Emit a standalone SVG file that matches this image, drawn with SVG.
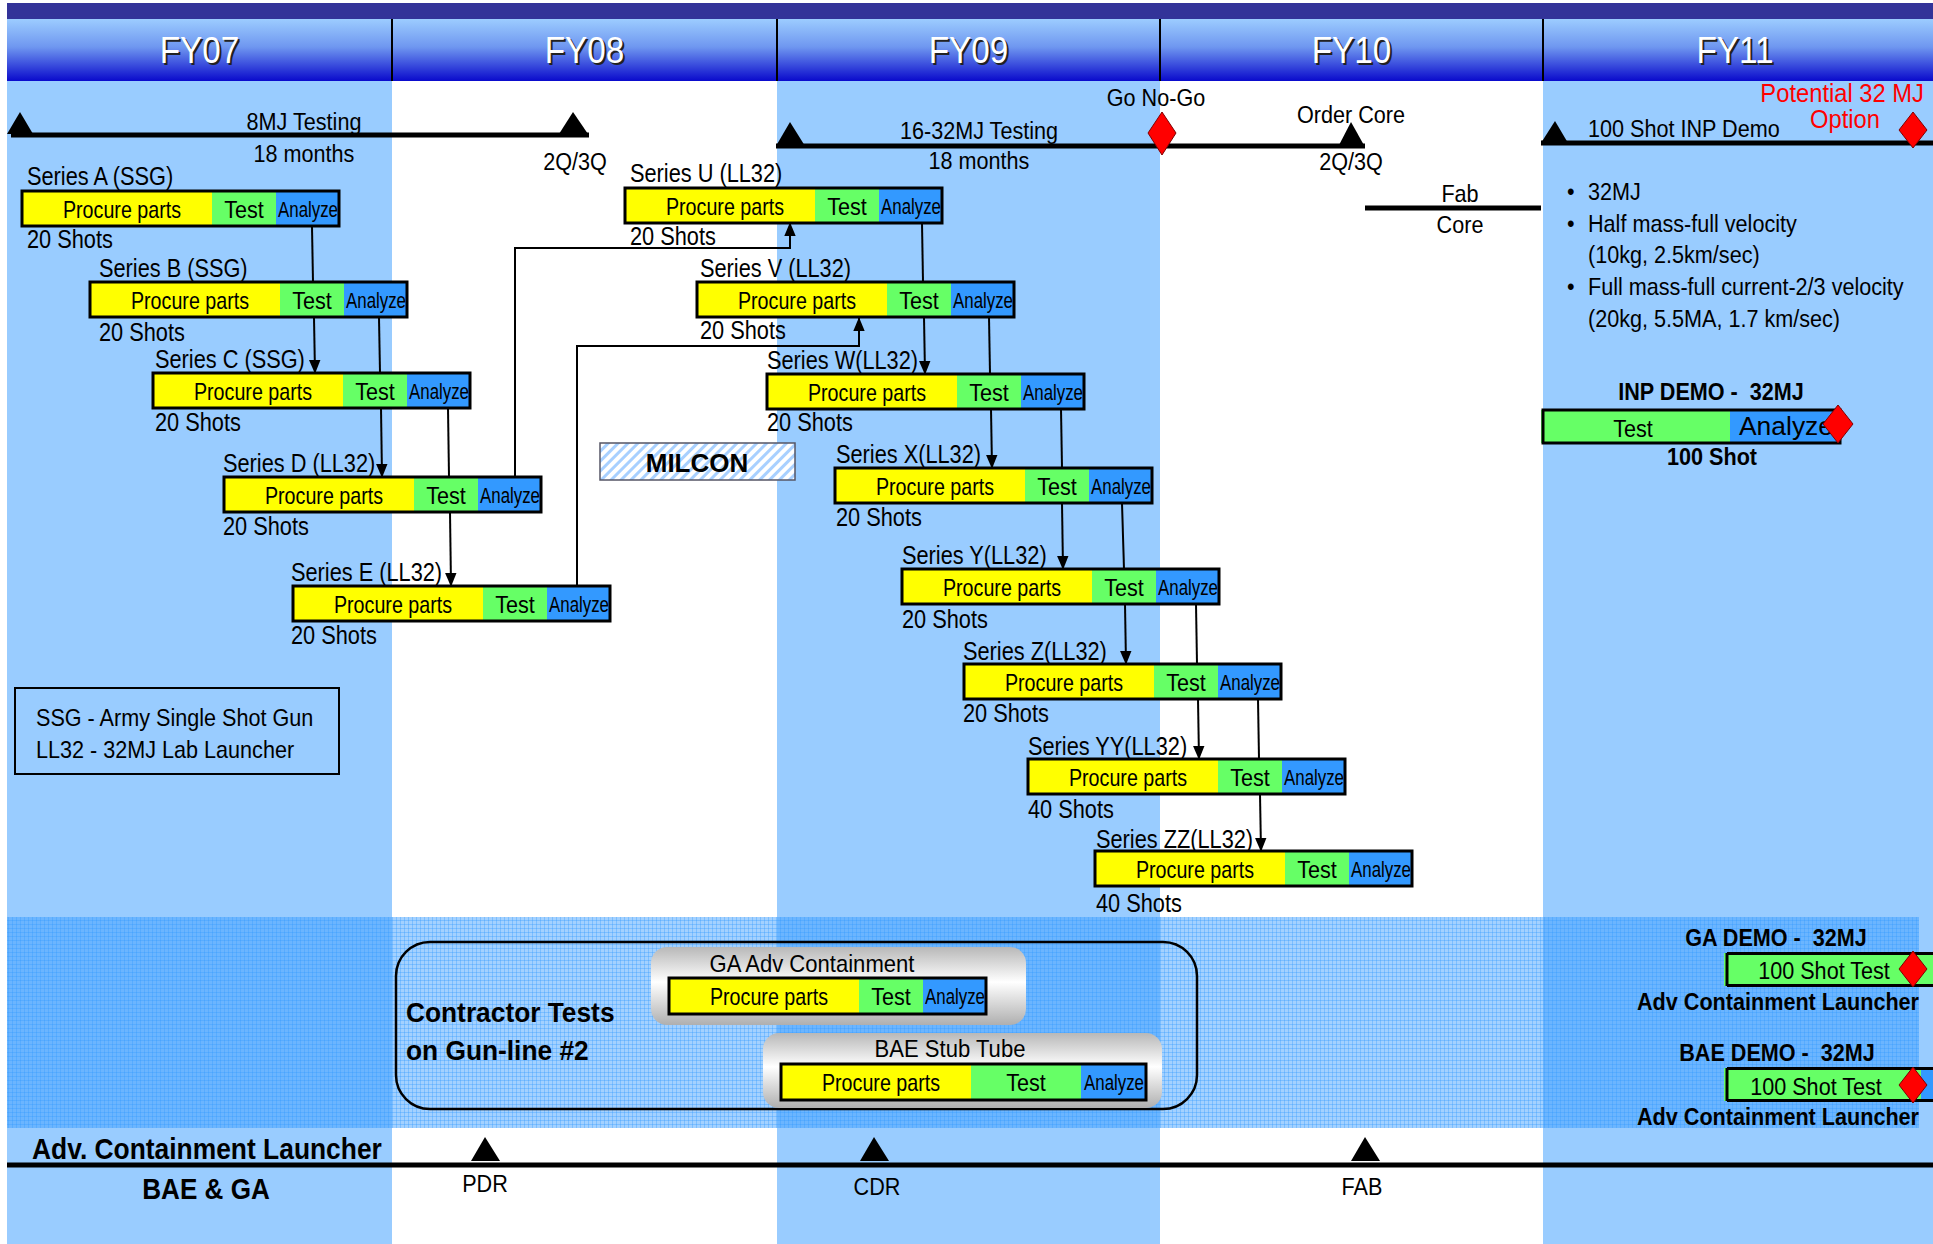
<svg xmlns="http://www.w3.org/2000/svg" width="1933" height="1244" viewBox="0 0 1933 1244">
<defs>
<style>
.t{font-family:"Liberation Sans Narrow","Arial Narrow","Liberation Sans",sans-serif;font-size:24px;fill:#000;transform-box:fill-box;transform-origin:0 0;transform:scaleX(.9)}
.lb{font-size:25px;transform:scaleX(.87)}
.pp{transform:scaleX(.82)}
.an{font-size:22px;text-anchor:middle;transform:none}
.b{font-weight:bold}
.c{text-anchor:middle;transform-origin:50% 0}
.e{text-anchor:end;transform-origin:100% 0}
.hdr{font-family:"Liberation Sans Narrow","Arial Narrow","Liberation Sans",sans-serif;font-size:37px;text-anchor:middle;fill:#fff;transform-box:fill-box;transform-origin:50% 0;transform:scaleX(.9)}
.hs{fill:#222}
.red{fill:#FF0000;font-size:25px;transform:scaleX(.95)}
.yc{fill:#FFFF00}
.gc{fill:#66FF66}
.bc{fill:#3399FF}
.fr{fill:none;stroke:#000;stroke-width:3}
.col{fill:#99CCFF}
.tl{stroke:#000;stroke-width:5;fill:none}
.conn{stroke:#000;stroke-width:2;fill:none}
.dm{fill:#FF0000;stroke:#800000;stroke-width:1}
.tri{fill:#000}
.gbox{fill:url(#greyGrad)}
</style>
<linearGradient id="hdrGrad" x1="0" y1="0" x2="0" y2="1">
<stop offset="0" stop-color="#9CCCFF"/>
<stop offset="0.45" stop-color="#6F97F0"/>
<stop offset="1" stop-color="#0A0ACC"/>
</linearGradient>
<linearGradient id="greyGrad" x1="0" y1="0" x2="0" y2="1">
<stop offset="0" stop-color="#B8B8B8"/>
<stop offset="0.45" stop-color="#FFFFFF"/>
<stop offset="1" stop-color="#AFAFAF"/>
</linearGradient>
<pattern id="grid" patternUnits="userSpaceOnUse" width="4" height="4">
<rect width="4" height="4" fill="#3399FF" fill-opacity="0.45"/>
<path d="M0 0.5H4M0.5 0V4" stroke="#3399FF" stroke-opacity="0.35" stroke-width="1"/>
</pattern>
<pattern id="diag" patternUnits="userSpaceOnUse" width="7" height="7" patternTransform="rotate(45)">
<rect width="7" height="7" fill="#FFFFFF"/>
<rect width="3" height="7" fill="#A8D0FF"/>
</pattern>
<marker id="arr" markerUnits="userSpaceOnUse" markerWidth="14" markerHeight="17" refX="16" refY="7" orient="auto" viewBox="0 0 17 14">
<path d="M0 0L17 7L0 14Z" fill="#000"/>
</marker>
</defs>

<g id="background">
<rect x="0" y="0" width="1933" height="1244" fill="#FFFFFF"/>
<rect class="col" x="7" y="81" width="385" height="1163"/>
<rect class="col" x="777" y="81" width="383" height="1163"/>
<rect class="col" x="1543" y="81" width="390" height="1163"/>
<rect x="7" y="917" width="1912" height="211" fill="url(#grid)"/>
</g>

<g id="header">
<rect x="7" y="3" width="1926" height="16" fill="#333399"/>
<rect x="7" y="19" width="1926" height="62" fill="url(#hdrGrad)"/>
<path d="M392 19V81M777 19V81M1160 19V81M1543 19V81" stroke="#000" stroke-width="2"/>
<text class="hdr hs" x="201.5" y="65">FY07</text>
<text class="hdr" x="199.5" y="63">FY07</text>
<text class="hdr hs" x="586.5" y="65">FY08</text>
<text class="hdr" x="584.5" y="63">FY08</text>
<text class="hdr hs" x="970.5" y="65">FY09</text>
<text class="hdr" x="968.5" y="63">FY09</text>
<text class="hdr hs" x="1353.5" y="65">FY10</text>
<text class="hdr" x="1351.5" y="63">FY10</text>
<text class="hdr hs" x="1737" y="65">FY11</text>
<text class="hdr" x="1735" y="63">FY11</text>
</g>

<g id="timeline-8mj">
<path class="tl" d="M11 135H589"/>
<polygon class="tri" points="20,112 33,134 7,134"/>
<polygon class="tri" points="573,112 588,134 559,134"/>
<text class="t c" x="304" y="130">8MJ Testing</text>
<text class="t c" x="304" y="162">18 months</text>
<text class="t c" x="575" y="170">2Q/3Q</text>
</g>

<g id="timeline-16-32mj">
<path class="tl" d="M776 146H1365"/>
<polygon class="tri" points="790,122 805,146 776,146"/>
<polygon class="tri" points="1351,122 1365,147 1338,147"/>
<polygon class="dm" points="1162,112 1176,133 1162,155 1148,133"/>
<text class="t c" x="979" y="139">16-32MJ Testing</text>
<text class="t c" x="979" y="169">18 months</text>
<text class="t c" x="1156" y="106">Go No-Go</text>
<text class="t c" x="1351" y="123">Order Core</text>
<text class="t c" x="1351" y="170">2Q/3Q</text>
</g>

<g id="fab-core">
<path class="tl" d="M1365 208H1541"/>
<text class="t c" x="1460" y="202">Fab</text>
<text class="t c" x="1460" y="233">Core</text>
</g>

<g id="timeline-inp">
<path class="tl" d="M1541 143H1933"/>
<polygon class="tri" points="1555,121 1568,143 1541,143"/>
<polygon class="dm" points="1913,112 1927,130 1913,148 1899,130"/>
<text class="t" x="1588" y="137">100 Shot INP Demo</text>
<text class="t e red" x="1924" y="102">Potential 32 MJ</text>
<text class="t c red" x="1845" y="128">Option</text>
</g>

<g id="inp-notes">
<text class="t" x="1567" y="200">•</text>
<text class="t" x="1588" y="200">32MJ</text>
<text class="t" x="1567" y="232">•</text>
<text class="t" x="1588" y="232">Half mass-full velocity</text>
<text class="t" x="1588" y="263">(10kg, 2.5km/sec)</text>
<text class="t" x="1567" y="295">•</text>
<text class="t" x="1588" y="295">Full mass-full current-2/3 velocity</text>
<text class="t" x="1588" y="327">(20kg, 5.5MA, 1.7 km/sec)</text>
</g>

<g id="inp-demo">
<text class="t b c" x="1711" y="400" xml:space="preserve">INP DEMO -  32MJ</text>
<rect class="gc" x="1541" y="410" width="189" height="33"/>
<rect class="bc" x="1730" y="410" width="110" height="33"/>
<rect class="fr" x="1543" y="410" width="297" height="33"/>
<text class="t c" x="1633" y="437">Test</text>
<text class="t an" x="1786" y="435" style="font-size:25px" textLength="94" lengthAdjust="spacingAndGlyphs">Analyze</text>
<polygon class="dm" points="1838,405 1853,424 1838,443 1823,424"/>
<text class="t b c" x="1712" y="465">100 Shot</text>
</g>

<g id="series-a" transform="translate(22,191)">
<text class="t lb" x="5" y="-6">Series A (SSG)</text>
<rect class="yc" width="190" height="35"/><rect class="gc" x="190" width="64" height="35"/><rect class="bc" x="254" width="63" height="35"/>
<rect class="fr" width="317" height="35"/>
<text class="t c pp" x="100" y="27">Procure parts</text><text class="t c" x="222" y="27">Test</text><text class="t an" x="286" y="26" textLength="60" lengthAdjust="spacingAndGlyphs">Analyze</text>
<text class="t lb" x="5" y="57">20 Shots</text>
</g>
<g id="series-b" transform="translate(90,282)">
<text class="t lb" x="9" y="-5">Series B (SSG)</text>
<rect class="yc" width="190" height="35"/><rect class="gc" x="190" width="64" height="35"/><rect class="bc" x="254" width="63" height="35"/>
<rect class="fr" width="317" height="35"/>
<text class="t c pp" x="100" y="27">Procure parts</text><text class="t c" x="222" y="27">Test</text><text class="t an" x="286" y="26" textLength="60" lengthAdjust="spacingAndGlyphs">Analyze</text>
<text class="t lb" x="9" y="59">20 Shots</text>
</g>
<g id="series-c" transform="translate(153,373)">
<text class="t lb" x="2" y="-5">Series C (SSG)</text>
<rect class="yc" width="190" height="35"/><rect class="gc" x="190" width="64" height="35"/><rect class="bc" x="254" width="63" height="35"/>
<rect class="fr" width="317" height="35"/>
<text class="t c pp" x="100" y="27">Procure parts</text><text class="t c" x="222" y="27">Test</text><text class="t an" x="286" y="26" textLength="60" lengthAdjust="spacingAndGlyphs">Analyze</text>
<text class="t lb" x="2" y="58">20 Shots</text>
</g>
<g id="series-d" transform="translate(224,477)">
<text class="t lb" x="-1" y="-5">Series D (LL32)</text>
<rect class="yc" width="190" height="35"/><rect class="gc" x="190" width="64" height="35"/><rect class="bc" x="254" width="63" height="35"/>
<rect class="fr" width="317" height="35"/>
<text class="t c pp" x="100" y="27">Procure parts</text><text class="t c" x="222" y="27">Test</text><text class="t an" x="286" y="26" textLength="60" lengthAdjust="spacingAndGlyphs">Analyze</text>
<text class="t lb" x="-1" y="58">20 Shots</text>
</g>
<g id="series-e" transform="translate(293,586)">
<text class="t lb" x="-2" y="-5">Series E (LL32)</text>
<rect class="yc" width="190" height="35"/><rect class="gc" x="190" width="64" height="35"/><rect class="bc" x="254" width="63" height="35"/>
<rect class="fr" width="317" height="35"/>
<text class="t c pp" x="100" y="27">Procure parts</text><text class="t c" x="222" y="27">Test</text><text class="t an" x="286" y="26" textLength="60" lengthAdjust="spacingAndGlyphs">Analyze</text>
<text class="t lb" x="-2" y="58">20 Shots</text>
</g>
<g id="series-u" transform="translate(625,188)">
<text class="t lb" x="5" y="-6">Series U (LL32)</text>
<rect class="yc" width="190" height="35"/><rect class="gc" x="190" width="64" height="35"/><rect class="bc" x="254" width="63" height="35"/>
<rect class="fr" width="317" height="35"/>
<text class="t c pp" x="100" y="27">Procure parts</text><text class="t c" x="222" y="27">Test</text><text class="t an" x="286" y="26" textLength="60" lengthAdjust="spacingAndGlyphs">Analyze</text>
<text class="t lb" x="5" y="57">20 Shots</text>
</g>
<g id="series-v" transform="translate(697,282)">
<text class="t lb" x="3" y="-5">Series V (LL32)</text>
<rect class="yc" width="190" height="35"/><rect class="gc" x="190" width="64" height="35"/><rect class="bc" x="254" width="63" height="35"/>
<rect class="fr" width="317" height="35"/>
<text class="t c pp" x="100" y="27">Procure parts</text><text class="t c" x="222" y="27">Test</text><text class="t an" x="286" y="26" textLength="60" lengthAdjust="spacingAndGlyphs">Analyze</text>
<text class="t lb" x="3" y="57">20 Shots</text>
</g>
<g id="series-w" transform="translate(767,374)">
<text class="t lb" x="0" y="-5">Series W(LL32)</text>
<rect class="yc" width="190" height="35"/><rect class="gc" x="190" width="64" height="35"/><rect class="bc" x="254" width="63" height="35"/>
<rect class="fr" width="317" height="35"/>
<text class="t c pp" x="100" y="27">Procure parts</text><text class="t c" x="222" y="27">Test</text><text class="t an" x="286" y="26" textLength="60" lengthAdjust="spacingAndGlyphs">Analyze</text>
<text class="t lb" x="0" y="57">20 Shots</text>
</g>
<g id="series-x" transform="translate(835,468)">
<text class="t lb" x="1" y="-5">Series X(LL32)</text>
<rect class="yc" width="190" height="35"/><rect class="gc" x="190" width="64" height="35"/><rect class="bc" x="254" width="63" height="35"/>
<rect class="fr" width="317" height="35"/>
<text class="t c pp" x="100" y="27">Procure parts</text><text class="t c" x="222" y="27">Test</text><text class="t an" x="286" y="26" textLength="60" lengthAdjust="spacingAndGlyphs">Analyze</text>
<text class="t lb" x="1" y="58">20 Shots</text>
</g>
<g id="series-y" transform="translate(902,569)">
<text class="t lb" x="0" y="-5">Series Y(LL32)</text>
<rect class="yc" width="190" height="35"/><rect class="gc" x="190" width="64" height="35"/><rect class="bc" x="254" width="63" height="35"/>
<rect class="fr" width="317" height="35"/>
<text class="t c pp" x="100" y="27">Procure parts</text><text class="t c" x="222" y="27">Test</text><text class="t an" x="286" y="26" textLength="60" lengthAdjust="spacingAndGlyphs">Analyze</text>
<text class="t lb" x="0" y="59">20 Shots</text>
</g>
<g id="series-z" transform="translate(964,664)">
<text class="t lb" x="-1" y="-4">Series Z(LL32)</text>
<rect class="yc" width="190" height="35"/><rect class="gc" x="190" width="64" height="35"/><rect class="bc" x="254" width="63" height="35"/>
<rect class="fr" width="317" height="35"/>
<text class="t c pp" x="100" y="27">Procure parts</text><text class="t c" x="222" y="27">Test</text><text class="t an" x="286" y="26" textLength="60" lengthAdjust="spacingAndGlyphs">Analyze</text>
<text class="t lb" x="-1" y="58">20 Shots</text>
</g>
<g id="series-yy" transform="translate(1028,759)">
<text class="t lb" x="0" y="-4">Series YY(LL32)</text>
<rect class="yc" width="190" height="35"/><rect class="gc" x="190" width="64" height="35"/><rect class="bc" x="254" width="63" height="35"/>
<rect class="fr" width="317" height="35"/>
<text class="t c pp" x="100" y="27">Procure parts</text><text class="t c" x="222" y="27">Test</text><text class="t an" x="286" y="26" textLength="60" lengthAdjust="spacingAndGlyphs">Analyze</text>
<text class="t lb" x="0" y="59">40 Shots</text>
</g>
<g id="series-zz" transform="translate(1095,851)">
<text class="t lb" x="1" y="-3">Series ZZ(LL32)</text>
<rect class="yc" width="190" height="35"/><rect class="gc" x="190" width="64" height="35"/><rect class="bc" x="254" width="63" height="35"/>
<rect class="fr" width="317" height="35"/>
<text class="t c pp" x="100" y="27">Procure parts</text><text class="t c" x="222" y="27">Test</text><text class="t an" x="286" y="26" textLength="60" lengthAdjust="spacingAndGlyphs">Analyze</text>
<text class="t lb" x="1" y="61">40 Shots</text>
</g>

<g id="milcon">
<rect x="600" y="443" width="195" height="37" fill="url(#diag)" stroke="#556" stroke-width="1.5"/>
<text class="t c b" x="697" y="472" style="font-size:26px;transform:none">MILCON</text>
</g>

<g id="legend">
<rect x="15" y="688" width="324" height="86" fill="none" stroke="#000" stroke-width="2"/>
<text class="t" x="36" y="726">SSG - Army Single Shot Gun</text>
<text class="t" x="36" y="758">LL32 - 32MJ Lab Launcher</text>
</g>

<g id="connectors">
<path class="conn" d="M312 227L313 282"/>
<path class="conn" d="M314 318L315 373" marker-end="url(#arr)"/>
<path class="conn" d="M379 318L380 373"/>
<path class="conn" d="M381 408L382 477" marker-end="url(#arr)"/>
<path class="conn" d="M448 408L449 477"/>
<path class="conn" d="M450 512L451 586" marker-end="url(#arr)"/>
<path class="conn" d="M515 477V248H790V223" marker-end="url(#arr)"/>
<path class="conn" d="M577 586V346H859V318" marker-end="url(#arr)"/>
<path class="conn" d="M922 223L923 282"/>
<path class="conn" d="M924 317L925 374" marker-end="url(#arr)"/>
<path class="conn" d="M989 317L990 374"/>
<path class="conn" d="M991 409L992 468" marker-end="url(#arr)"/>
<path class="conn" d="M1061 409L1062 468"/>
<path class="conn" d="M1062 503L1063 569" marker-end="url(#arr)"/>
<path class="conn" d="M1122 503L1124 569"/>
<path class="conn" d="M1125 604L1126 664" marker-end="url(#arr)"/>
<path class="conn" d="M1196 604L1197 664"/>
<path class="conn" d="M1198 699L1199 759" marker-end="url(#arr)"/>
<path class="conn" d="M1258 699L1259 759"/>
<path class="conn" d="M1260 794L1261 851" marker-end="url(#arr)"/>
</g>

<g id="contractor-tests">
<rect x="396" y="942" width="801" height="167" rx="34" ry="34" fill="none" stroke="#000" stroke-width="2.5"/>
<text class="t b" x="406" y="1022" style="font-size:28px;transform:scaleX(.94)">Contractor Tests</text>
<text class="t b" x="406" y="1060" style="font-size:28px;transform:scaleX(.94)">on Gun-line #2</text>
</g>

<g id="ga-adv-containment">
<rect class="gbox" x="651" y="947" width="375" height="78" rx="16" ry="16"/>
<text class="t c" x="812" y="972" style="transform:scaleX(.92)">GA Adv Containment</text>
<g transform="translate(669,978)">
<rect class="yc" width="190" height="36"/><rect class="gc" x="190" width="64" height="36"/><rect class="bc" x="254" width="63" height="36"/>
<rect class="fr" width="317" height="36"/>
<text class="t c pp" x="100" y="27">Procure parts</text><text class="t c" x="222" y="27">Test</text><text class="t an" x="286" y="26" textLength="60" lengthAdjust="spacingAndGlyphs">Analyze</text>
</g>
</g>

<g id="bae-stub-tube">
<rect class="gbox" x="763" y="1033" width="399" height="75" rx="16" ry="16"/>
<text class="t c" x="950" y="1057" style="transform:scaleX(.92)">BAE Stub Tube</text>
<g transform="translate(781,1064)">
<rect class="yc" width="190" height="36"/><rect class="gc" x="190" width="110" height="36"/><rect class="bc" x="300" width="65" height="36"/>
<rect class="fr" width="365" height="36"/>
<text class="t c pp" x="100" y="27">Procure parts</text><text class="t c" x="245" y="27">Test</text><text class="t an" x="333" y="26" textLength="60" lengthAdjust="spacingAndGlyphs">Analyze</text>
</g>
</g>

<g id="ga-demo">
<text class="t b c" x="1776" y="946" xml:space="preserve">GA DEMO -  32MJ</text>
<rect class="gc" x="1724" y="953" width="209" height="33"/>
<path d="M1727 953V986M1727 953.5H1933M1727 985.5H1933" stroke="#000" stroke-width="3" fill="none"/>
<text class="t c" x="1824" y="979">100 Shot Test</text>
<polygon class="dm" points="1913,951 1927,969 1913,987 1899,969"/>
<text class="t b e" x="1919" y="1010">Adv Containment Launcher</text>
</g>

<g id="bae-demo">
<text class="t b c" x="1777" y="1061" xml:space="preserve">BAE DEMO -  32MJ</text>
<rect class="gc" x="1724" y="1068" width="197" height="33"/>
<rect class="bc" x="1921" y="1068" width="12" height="33"/>
<path d="M1727 1068V1101M1727 1068.5H1933M1727 1100.5H1933" stroke="#000" stroke-width="3" fill="none"/>
<text class="t c" x="1816" y="1095">100 Shot Test</text>
<polygon class="dm" points="1913,1067 1927,1085 1913,1103 1899,1085"/>
<text class="t b e" x="1919" y="1125">Adv Containment Launcher</text>
</g>

<g id="acl-timeline">
<path d="M7 1165H1933" stroke="#000" stroke-width="5"/>
<text class="t b" x="32" y="1159" style="font-size:29px;transform:scaleX(.91)">Adv. Containment Launcher</text>
<text class="t b c" x="206" y="1199" style="font-size:29px">BAE &amp; GA</text>
<polygon class="tri" points="485,1137 500,1161 471,1161"/>
<polygon class="tri" points="874,1137 889,1161 860,1161"/>
<polygon class="tri" points="1365,1137 1380,1161 1351,1161"/>
<text class="t c" x="485" y="1192">PDR</text>
<text class="t c" x="877" y="1195">CDR</text>
<text class="t c" x="1362" y="1195">FAB</text>
</g>
</svg>
